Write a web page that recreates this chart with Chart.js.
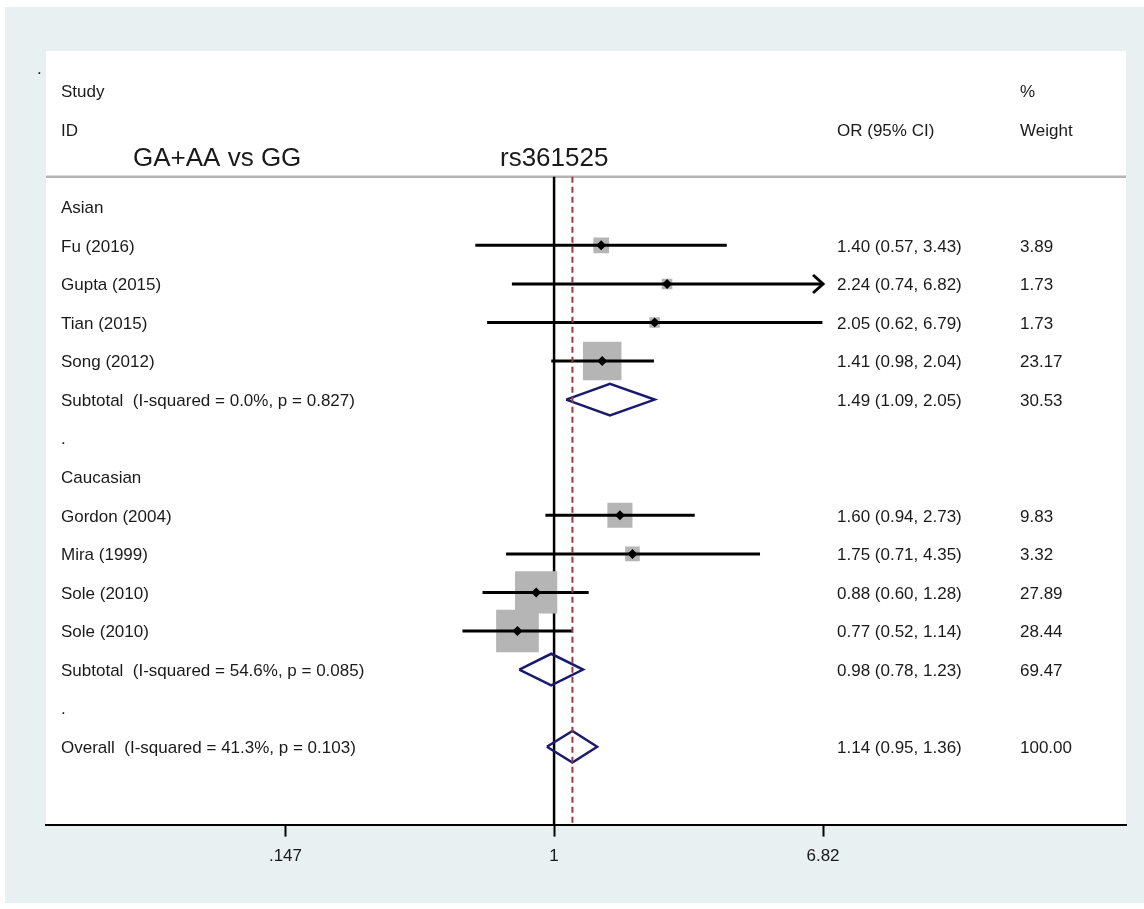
<!DOCTYPE html>
<html>
<head>
<meta charset="utf-8">
<title>rs361525 GA+AA vs GG</title>
<script src="https://cdn.jsdelivr.net/npm/chart.js@4/dist/chart.umd.min.js"></script>
<style>
  html, body { margin: 0; padding: 0; background: #fff; }
  #wrap { width: 1144px; height: 909px; }
</style>
</head>
<body>
<div id="wrap"><canvas id="forest" width="1144" height="909"></canvas></div>
<script>
// studies (row = line number under the header, Asian = 0)
const studyLabels = ['Fu (2016)', 'Gupta (2015)', 'Tian (2015)', 'Song (2012)',
                     'Gordon (2004)', 'Mira (1999)', 'Sole (2010)', 'Sole (2010)'];
const studyRows   = [1, 2, 3, 4, 8, 9, 10, 11];
const studyOR     = [1.40, 2.24, 2.05, 1.41, 1.60, 1.75, 0.88, 0.77];
const studyLower  = [0.57, 0.74, 0.62, 0.98, 0.94, 0.71, 0.60, 0.52];
const studyUpper  = [3.43, 6.82, 6.79, 2.04, 2.73, 4.35, 1.28, 1.14];
const studyWeight = [3.89, 1.73, 1.73, 23.17, 9.83, 3.32, 27.89, 28.44];

// subtotals and overall
const pooledLabels = ['Subtotal  (I-squared = 0.0%, p = 0.827)',
                      'Subtotal  (I-squared = 54.6%, p = 0.085)',
                      'Overall  (I-squared = 41.3%, p = 0.103)'];
const pooledRows   = [5, 12, 14];
const pooledOR     = [1.49, 0.98, 1.14];
const pooledLower  = [1.09, 0.78, 0.95];
const pooledUpper  = [2.05, 1.23, 1.36];
const pooledWeight = [30.53, 69.47, 100.00];

// group headings and spacer dots
const groupLabels = ['Asian', '.', 'Caucasian', '.'];
const groupRows   = [0, 6, 7, 13];

// x axis ticks
const xTicks      = [0.147, 1, 6.82];
const xTickLabels = ['.147', '1', '6.82'];

const FONT = "'Liberation Sans', Arial, sans-serif";
const TEXT = '#1a1a1a';

// scale limits (plot box spans the whole white panel)
const xMin = 0.0266, xMax = 59.3;
const yMin = -4.04, yMax = 16.02;
const headerRow = -0.78;
const diamondHalf = 0.41;

// arrow head for CIs that run off the axis
const arrowCanvas = document.createElement('canvas');
arrowCanvas.width = 24;
arrowCanvas.height = 24;
(function () {
    const c = arrowCanvas.getContext('2d');
    c.strokeStyle = '#000';
    c.lineWidth = 3;
    c.beginPath();
    c.moveTo(2, 3);
    c.lineTo(12, 12);
    c.lineTo(2, 21);
    c.stroke();
})();

const datasets = [];

// black point estimates
datasets.push({
    data: studyRows.map((r, i) => ({ x: studyOR[i], y: r })),
    pointStyle: 'rectRot', pointRadius: 5, backgroundColor: '#000',
    borderWidth: 0, showLine: false, order: 0
});

// pooled-effect reference line
datasets.push({
    data: [{ x: pooledOR[2], y: headerRow }, { x: pooledOR[2], y: yMax }],
    showLine: true, borderColor: '#a5343b', borderWidth: 2, borderDash: [6, 4],
    pointRadius: 0, order: 1
});

// pooled diamonds
pooledRows.forEach((r, i) => {
    datasets.push({
        data: [
            { x: pooledLower[i], y: r },
            { x: pooledOR[i], y: r - diamondHalf },
            { x: pooledUpper[i], y: r },
            { x: pooledOR[i], y: r + diamondHalf },
            { x: pooledLower[i], y: r }
        ],
        showLine: true, borderColor: '#1b1b6e', borderWidth: 2.5,
        borderJoinStyle: 'miter', fill: false, pointRadius: 0, order: 2
    });
});

// confidence intervals
studyRows.forEach((r, i) => {
    const offAxis = studyUpper[i] >= xTicks[xTicks.length - 1];
    datasets.push({
        data: [{ x: studyLower[i], y: r }, { x: studyUpper[i], y: r }],
        showLine: true, borderColor: '#000', borderWidth: 3,
        pointStyle: ctx => (offAxis && ctx.dataIndex === 1) ? arrowCanvas : 'circle',
        pointRadius: ctx => (offAxis && ctx.dataIndex === 1) ? 5 : 0,
        order: 3
    });
});

// weight boxes
datasets.push({
    data: studyRows.map((r, i) => ({ x: studyOR[i], y: r })),
    pointStyle: 'rect',
    pointRadius: ctx => 8 * Math.sqrt(studyWeight[ctx.dataIndex]) / Math.SQRT2,
    backgroundColor: '#b5b5b5', borderWidth: 0, showLine: false, order: 4
});

// null line at OR = 1
datasets.push({
    data: [{ x: 1, y: headerRow }, { x: 1, y: yMax }],
    showLine: true, borderColor: '#000', borderWidth: 2.5, pointRadius: 0, order: 5
});

// header rule
datasets.push({
    data: [{ x: xMin, y: headerRow }, { x: xMax, y: headerRow }],
    showLine: true, borderColor: '#b4b4b4', borderWidth: 2.5, pointRadius: 0, order: 6
});

// panel backgrounds
const panelPlugin = {
    id: 'panel',
    beforeDraw(chart) {
        const { ctx, chartArea: a } = chart;
        ctx.save();
        ctx.fillStyle = '#ffffff';
        ctx.fillRect(0, 0, chart.width, chart.height);
        ctx.fillStyle = '#e8f0f2';
        ctx.fillRect(5, 7, chart.width - 5, 896);
        ctx.fillStyle = '#ffffff';
        ctx.fillRect(a.left, a.top, a.right - a.left, a.bottom - a.top);
        ctx.restore();
    }
};

// study labels, estimates and weights
const textPlugin = {
    id: 'forestText',
    afterDatasetsDraw(chart) {
        const { ctx, chartArea: a } = chart;
        const y = chart.scales.y;
        const colLabel = a.left + 15, colOR = 837, colW = 1020;
        const put = (txt, x, row, size) => {
            ctx.font = (size || 17) + 'px ' + FONT;
            ctx.fillText(txt, x, y.getPixelForValue(row) + 1.5);
        };
        ctx.save();
        ctx.fillStyle = TEXT;
        ctx.textAlign = 'left';
        ctx.textBaseline = 'middle';

        put('.', 37, -3.6);
        put('Study', colLabel, -3);
        put('ID', colLabel, -2);
        put('%', colW, -3);
        put('Weight', colW, -2);
        put('OR (95% CI)', colOR, -2);
        put('GA+AA vs GG', 133, -1.29, 26);
        put('rs361525', 500, -1.29, 26);

        groupLabels.forEach((t, i) => put(t, colLabel, groupRows[i]));
        studyLabels.forEach((t, i) => {
            put(t, colLabel, studyRows[i]);
            put(studyOR[i].toFixed(2) + ' (' + studyLower[i].toFixed(2) + ', ' + studyUpper[i].toFixed(2) + ')', colOR, studyRows[i]);
            put(studyWeight[i].toFixed(2), colW, studyRows[i]);
        });
        pooledLabels.forEach((t, i) => {
            put(t, colLabel, pooledRows[i]);
            put(pooledOR[i].toFixed(2) + ' (' + pooledLower[i].toFixed(2) + ', ' + pooledUpper[i].toFixed(2) + ')', colOR, pooledRows[i]);
            put(pooledWeight[i].toFixed(2), colW, pooledRows[i]);
        });
        ctx.restore();
    }
};

new Chart(document.getElementById('forest'), {
    type: 'scatter',
    data: { datasets },
    options: {
        responsive: false,
        animation: false,
        events: [],
        layout: { autoPadding: false, padding: { left: 46, right: 18, top: 51, bottom: 32 } },
        plugins: { legend: { display: false }, tooltip: { enabled: false } },
        scales: {
            x: {
                type: 'logarithmic',
                min: xMin,
                max: xMax,
                afterBuildTicks: s => { s.ticks = xTicks.map(v => ({ value: v })); },
                grid: { drawOnChartArea: false, drawTicks: true, tickLength: 12, tickWidth: 2, tickColor: '#000' },
                border: { display: true, color: '#000', width: 2 },
                ticks: {
                    color: TEXT,
                    font: { family: FONT, size: 17 },
                    padding: 10,
                    autoSkip: false,
                    maxRotation: 0,
                    callback: v => xTickLabels[xTicks.indexOf(v)]
                }
            },
            y: { type: 'linear', reverse: true, min: yMin, max: yMax, display: false }
        }
    },
    plugins: [panelPlugin, textPlugin]
});
</script>
</body>
</html>
